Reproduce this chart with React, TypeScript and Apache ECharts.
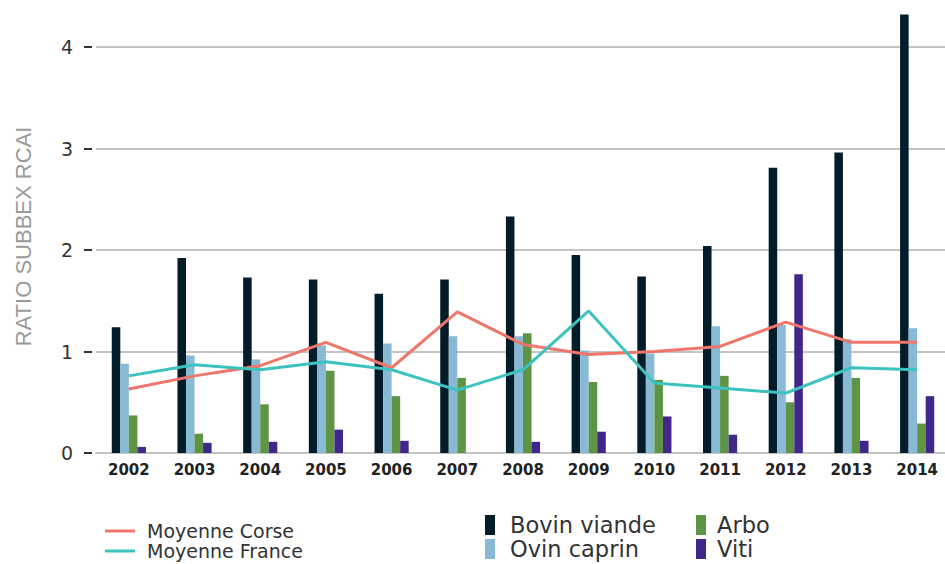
import React, { useEffect, useRef } from "react";
import * as echarts from "echarts";

const years = ["2002", "2003", "2004", "2005", "2006", "2007", "2008", "2009", "2010", "2011", "2012", "2013", "2014"];
const bovinViande = [1.24, 1.92, 1.73, 1.71, 1.57, 1.71, 2.33, 1.95, 1.74, 2.04, 2.81, 2.96, 4.32];
const ovinCaprin = [0.88, 0.96, 0.92, 1.06, 1.08, 1.15, 1.15, 1.01, 0.98, 1.25, 1.26, 1.12, 1.23];
const arbo = [0.37, 0.19, 0.48, 0.81, 0.56, 0.74, 1.18, 0.7, 0.72, 0.76, 0.5, 0.74, 0.29];
const viti = [0.06, 0.1, 0.11, 0.23, 0.12, 0, 0.11, 0.21, 0.36, 0.18, 1.76, 0.12, 0.56];
const moyenneCorse = [0.63, 0.76, 0.86, 1.09, 0.84, 1.39, 1.07, 0.97, 1.0, 1.05, 1.29, 1.09, 1.09];
const moyenneFrance = [0.76, 0.87, 0.82, 0.9, 0.82, 0.62, 0.82, 1.4, 0.69, 0.64, 0.59, 0.84, 0.82];
const yTicks = [0, 1, 2, 3, 4];

export default function App() {
  const ref = useRef<HTMLDivElement>(null);
  useEffect(() => {
    if (!ref.current) return;
    const chart = echarts.init(ref.current, null, { renderer: "svg" });
    const font = "DejaVu Sans";
    const barSeries = (name: string, data: number[], color: string) => ({
      name,
      type: "bar",
      data,
      barGap: "0%",
      barCategoryGap: "48%",
      clip: false,
      itemStyle: { color },
    });
    const lineSeries = (name: string, data: number[], color: string) => ({
      name,
      type: "line",
      data,
      symbol: "none",
      z: 5,
      lineStyle: { color, width: 3 },
      itemStyle: { color },
    });
    const lineLegend = (name: string, top: number) => ({
      data: [name],
      left: 105,
      top,
      icon: "rect",
      itemWidth: 30,
      itemHeight: 3,
      selectedMode: false,
      padding: 0,
      textStyle: { fontFamily: font, fontSize: 19, color: "#333", lineHeight: 20, padding: [0, 0, 0, 7] },
    });
    const barLegend = (name: string, left: number, top: number, pad: number) => ({
      data: [name],
      left,
      top,
      icon: "rect",
      itemWidth: 10,
      itemHeight: 20,
      selectedMode: false,
      padding: 0,
      textStyle: { fontFamily: font, fontSize: 22.5, color: "#333", lineHeight: 24, padding: [0, 0, 0, pad] },
    });
    chart.setOption({
      animation: false,
      backgroundColor: "#ffffff",
      grid: { left: 96, right: 2, top: 47, bottom: 111, containLabel: false },
      xAxis: {
        type: "category",
        data: years,
        axisLine: { lineStyle: { color: "#c4c4c4", width: 2 } },
        axisTick: { show: false },
        axisLabel: { fontFamily: font, fontSize: 15, fontWeight: "bold", color: "#222", margin: 9 },
      },
      yAxis: {
        type: "value",
        min: yTicks[0],
        max: yTicks[yTicks.length - 1],
        interval: 1,
        offset: 4,
        name: "RATIO SUBBEX RCAI",
        nameLocation: "middle",
        nameGap: 58,
        nameTextStyle: { fontFamily: "Liberation Sans", fontSize: 22, color: "#9a9a9a", padding: [0, 0, 0, 27] },
        axisLine: { show: false },
        axisTick: { show: true, length: 8, lineStyle: { color: "#333", width: 2 } },
        axisLabel: { fontFamily: font, fontSize: 19, color: "#333", margin: 19 },
        splitLine: { lineStyle: { color: "#c4c4c4", width: 2 } },
      },
      legend: [
        lineLegend("Moyenne Corse", 521),
        lineLegend("Moyenne France", 541),
        barLegend("Bovin viande", 485, 513, 10),
        barLegend("Ovin caprin", 485, 537, 10),
        barLegend("Arbo", 696, 513, 6),
        barLegend("Viti", 696, 537, 6),
      ],
      series: [
        barSeries("Bovin viande", bovinViande, "#031c29"),
        barSeries("Ovin caprin", ovinCaprin, "#88bad5"),
        barSeries("Arbo", arbo, "#5f9445"),
        barSeries("Viti", viti, "#42278a"),
        lineSeries("Moyenne Corse", moyenneCorse, "#ef766b"),
        lineSeries("Moyenne France", moyenneFrance, "#3cc3c0"),
      ],
    });
    return () => chart.dispose();
  }, []);
  return (
    <div style={{ position: "fixed", left: 0, top: 0, width: 945, height: 564, overflow: "hidden", background: "#fff" }}>
      <div ref={ref} style={{ width: 952, height: 564 }} />
    </div>
  );
}
